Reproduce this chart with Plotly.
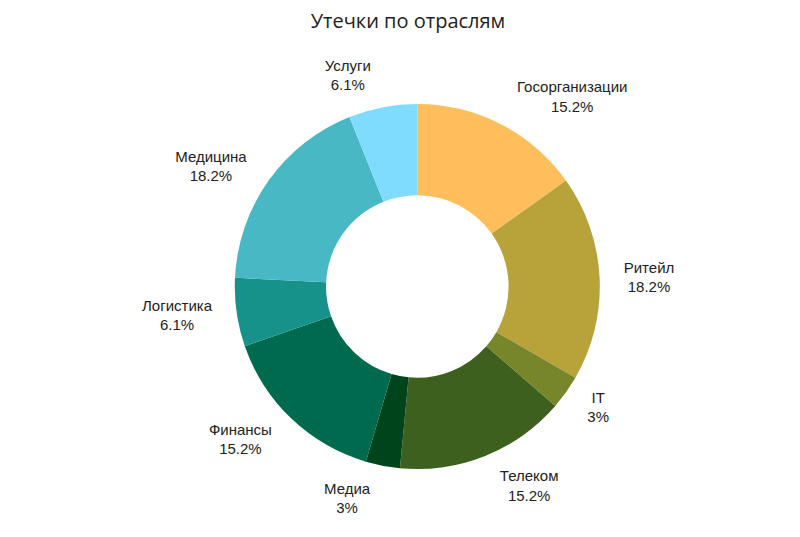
import plotly.graph_objects as go

categories = ["Госорганизации", "Ритейл", "IT", "Телеком", "Медиа", "Финансы", "Логистика", "Медицина", "Услуги"]
values = [5, 6, 1, 5, 1, 5, 2, 6, 2]
colors = ["#FFBE5C", "#B8A33B", "#77862A", "#3D601E", "#00441B", "#006A4E", "#17928A", "#48B8C4", "#80DCFF"]

label_font = dict(family="Liberation Sans, Arial, sans-serif", size=15, color="#222222")

# visible donut
donut = go.Pie(
    labels=categories,
    values=values,
    hole=0.5,
    sort=False,
    direction="clockwise",
    rotation=0,
    marker=dict(colors=colors, line=dict(width=0)),
    textinfo="none",
    domain=dict(x=[0, 0.984], y=[0.0379, 0.9621]),
    showlegend=False,
)

# transparent, slightly larger ring that carries the outside labels
labels_ring = go.Pie(
    labels=categories,
    values=values,
    hole=0.9,
    sort=False,
    direction="clockwise",
    rotation=0,
    marker=dict(colors=["rgba(0,0,0,0)"] * len(categories), line=dict(width=0)),
    textposition="outside",
    texttemplate="%{label}<br>%{percent:.1~%}",
    outsidetextfont=label_font,
    hoverinfo="skip",
    domain=dict(x=[0, 0.984], y=[0, 1]),
    showlegend=False,
)

fig = go.Figure([donut, labels_ring])

fig.update_layout(
    width=800, height=537,
    title=dict(text="Утечки по отраслям", x=0.5, xanchor="center", y=0.975, yanchor="middle",
               font=dict(family="Open Sans, sans-serif", size=20, color="#222222")),
    margin=dict(l=72, r=77, t=80.5, b=60.5),
    paper_bgcolor="white",
)

fig.write_html("out.html")
